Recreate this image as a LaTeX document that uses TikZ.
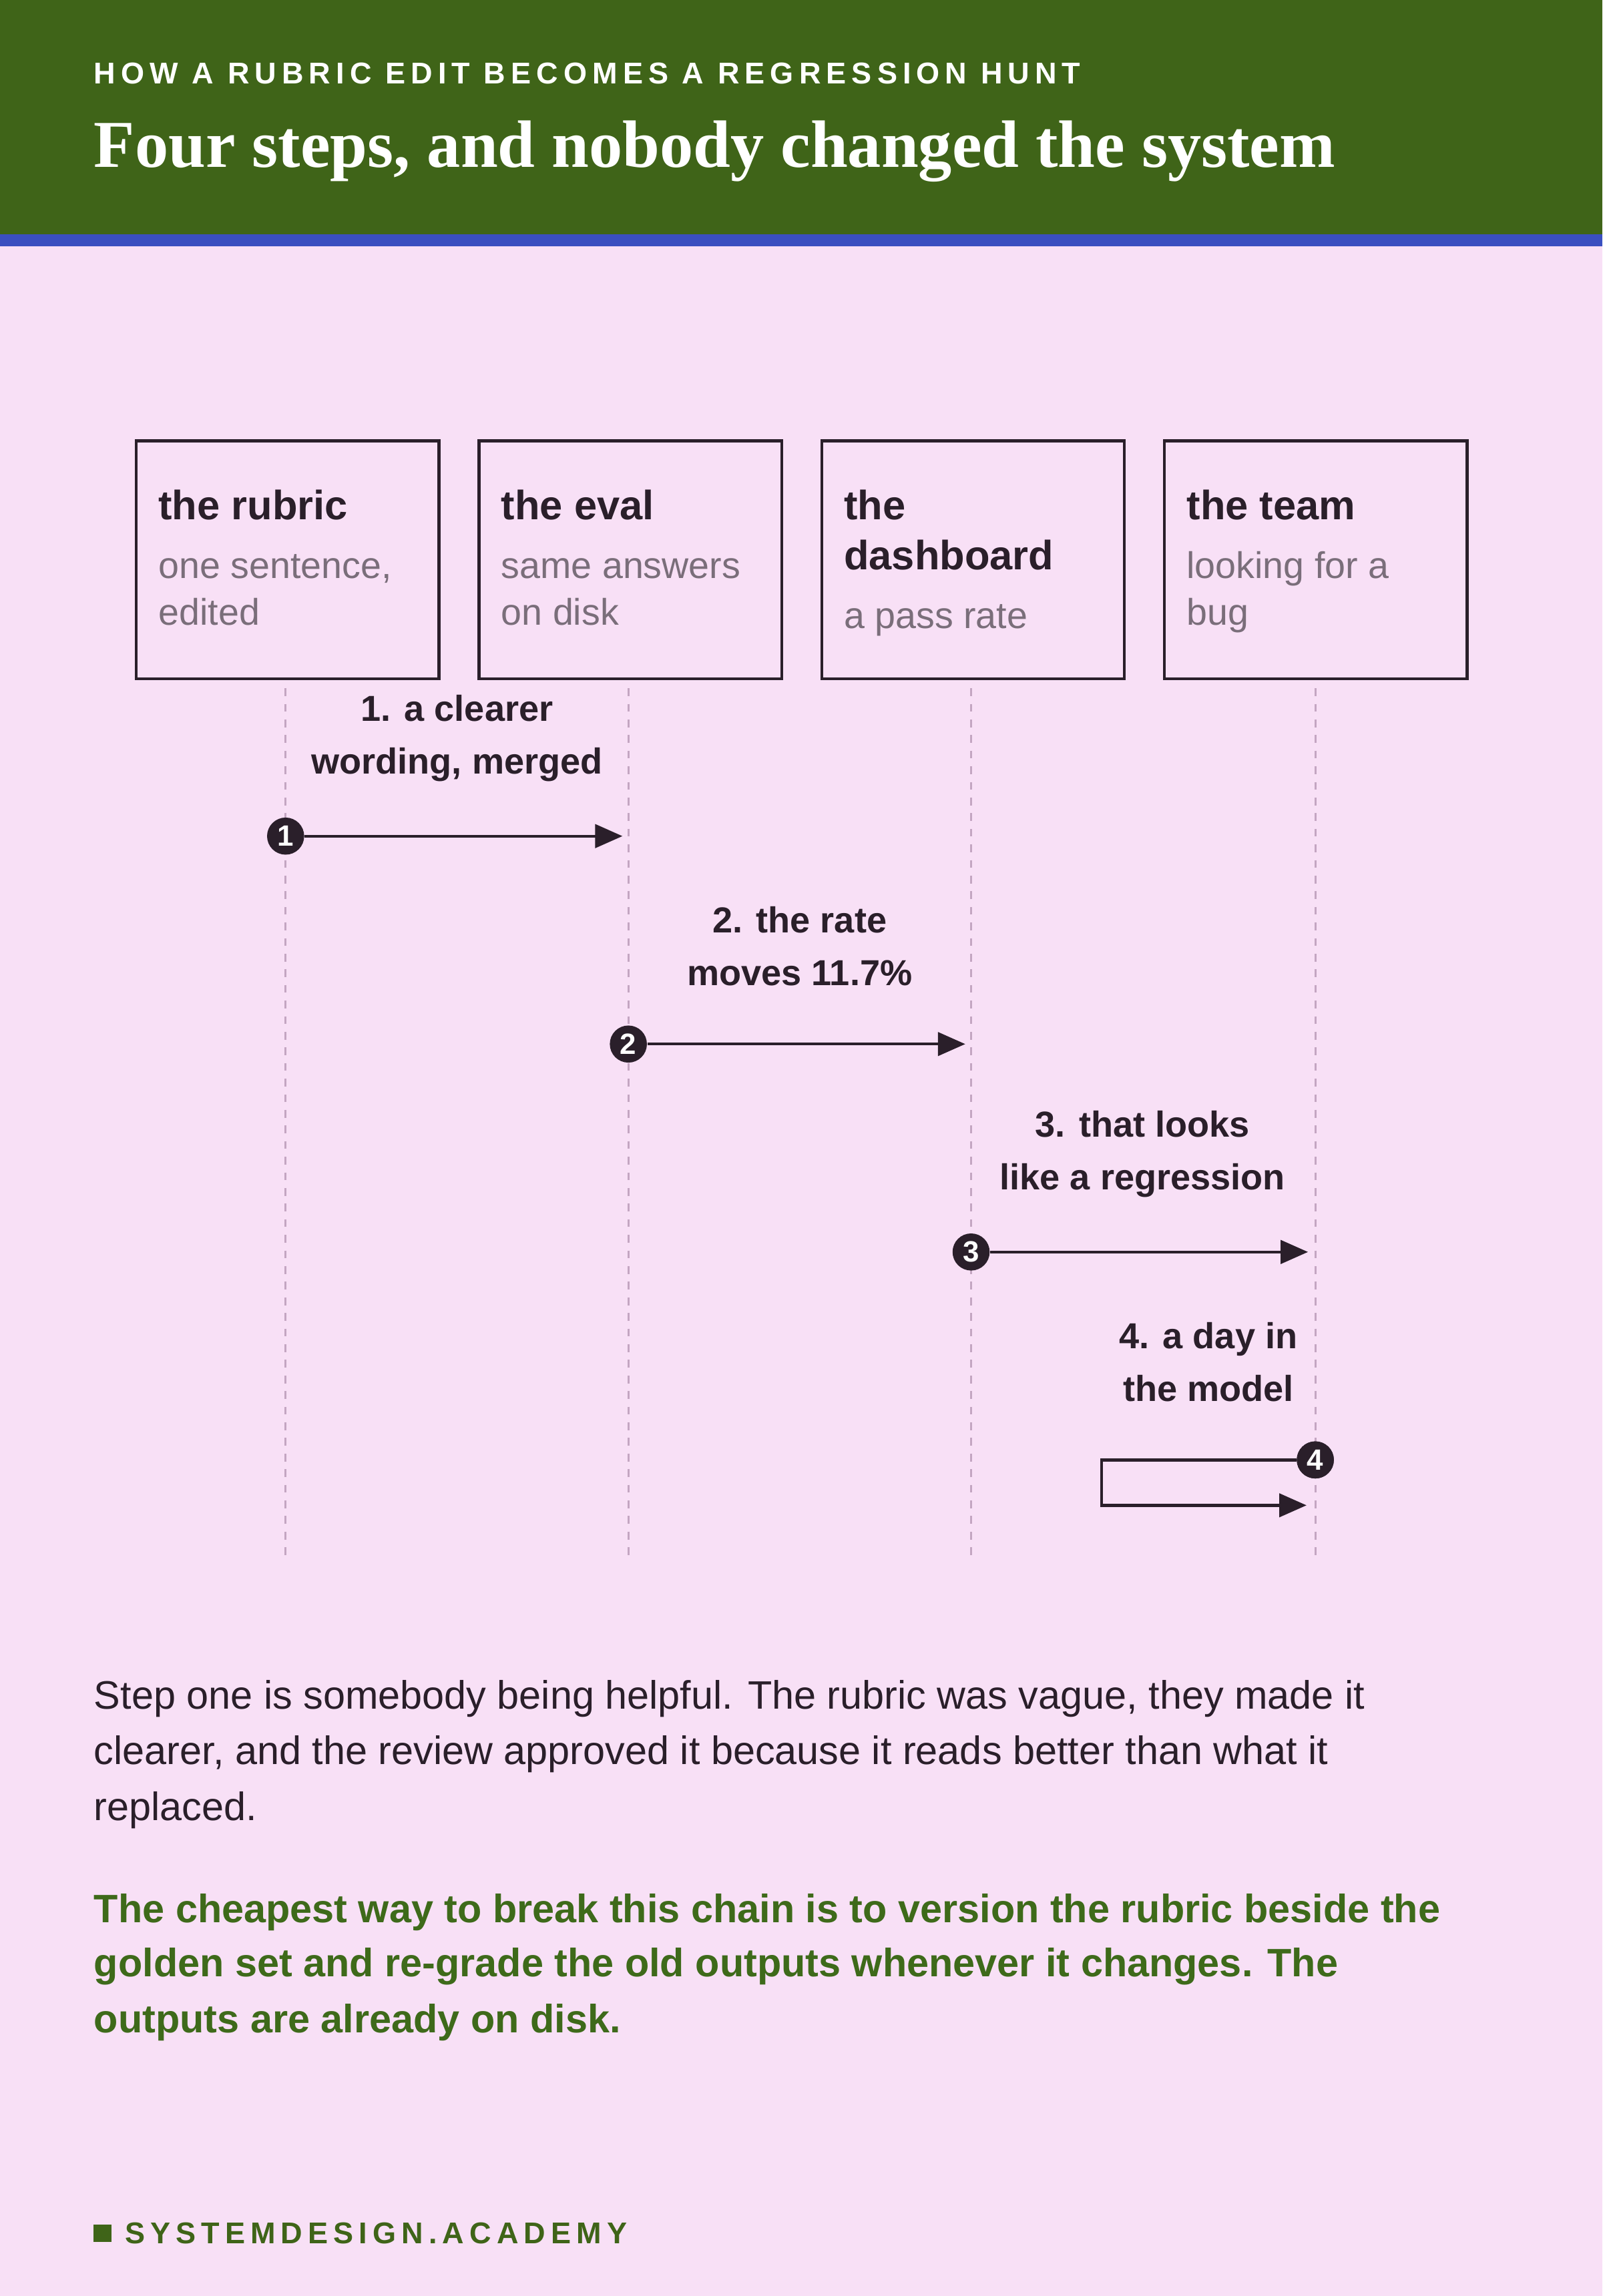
\documentclass[tikz,border=0pt]{standalone}
\usepackage{fontspec}
\setmainfont{Liberation Sans}
\newfontfamily\ttl{Liberation Serif}
\newfontfamily\kick[LetterSpace=18]{Liberation Sans}
\usetikzlibrary{arrows.meta}
\definecolor{hdr}{HTML}{3F6418}
\definecolor{bl}{HTML}{3A4FC0}
\definecolor{bg}{HTML}{F8E0F6}
\definecolor{ink}{HTML}{2A1F2A}
\definecolor{gr}{HTML}{7A6E7A}
\definecolor{gt}{HTML}{3E6A1A}
\definecolor{dl}{HTML}{C4A6C2}
\tikzset{
 box/.style={draw=ink,line width=1.5pt,minimum width=155pt,minimum height=122pt},
 bt/.style={anchor=base west,font=\fontsize{21}{25}\selectfont\bfseries,text=ink,inner sep=0},
 bs/.style={anchor=base west,font=\fontsize{19}{22}\selectfont,text=gr,inner sep=0},
 life/.style={dl,line width=1pt,dash pattern=on 4pt off 4pt},
 lab/.style={fill=bg,align=center,font=\fontsize{18.5}{27}\selectfont\bfseries,text=ink,inner sep=2pt},
 msg/.style={ink,line width=1.5pt,-{Triangle[length=14pt,width=12pt]}},
 num/.style={circle,fill=ink,text=white,inner sep=0,minimum size=19pt,font=\fontsize{15}{15}\selectfont\bfseries},
 para/.style={anchor=base west,inner sep=0,font=\fontsize{20.3}{24}\selectfont},
}
\begin{document}
\begin{tikzpicture}[x=0.75pt,y=-0.75pt]
\fill[bg] (0,0) rectangle (1094,1568);
\useasboundingbox (0,0) rectangle (1094,1568);
\fill[hdr] (0,0) rectangle (1094,160);
\fill[bl] (0,160) rectangle (1094,168);
\node[anchor=base west,inner sep=0,text=white,font=\kick\fontsize{15.4}{15}\selectfont\bfseries] (k) at (64,57) {HOW A RUBRIC EDIT BECOMES A REGRESSION HUNT};
\node[anchor=base west,inner sep=0,text=white,font=\ttl\fontsize{34.3}{36}\selectfont\bfseries] (t) at (64,114) {Four steps, and nobody changed the system};
\foreach \n/\x in {a/195,b/429,c/663,d/898}{
 \draw[life] (\x,470) -- (\x,1062);
}
\foreach \n/\x in {a/92,b/326,c/560,d/794}{
 \node[box,fill=bg,anchor=north west] (\n) at (\x,300) {};
}
\node[bt] (at) at (108,355) {the rubric};
\node[bs] (as1) at (108,395) {one sentence,};
\node[bs] (as2) at (108,427) {edited};
\node[bt] (bt) at (342,355) {the eval};
\node[bs] (bs1) at (342,395) {same answers};
\node[bs] (bs2) at (342,427) {on disk};
\node[bt] (ct1) at (576,355) {the};
\node[bt] (ct2) at (576,389) {dashboard};
\node[bs] (cs) at (576,429) {a pass rate};
\node[bt] (dt) at (810,355) {the team};
\node[bs] (ds1) at (810,395) {looking for a};
\node[bs] (ds2) at (810,427) {bug};
\node[lab] (l1) at (312,504) {1. a clearer\\wording, merged};
\node[num] (n1) at (195,571) {1};
\coordinate (e1) at (425,571);
\draw[msg] (n1) -- (e1);
\node[lab] (l2) at (546,646) {2. the rate\\moves 11.7\%};
\node[num] (n2) at (429,713) {2};
\coordinate (e2) at (659,713);
\draw[msg] (n2) -- (e2);
\node[lab] (l3) at (780,788) {3. that looks\\like a regression};
\node[num] (n3) at (663,855) {3};
\coordinate (e3) at (893,855);
\draw[msg] (n3) -- (e3);
\node[lab] (l4) at (825,930) {4. a day in\\the model};
\coordinate (c1) at (752,997);
\coordinate (c2) at (752,1028);
\coordinate (e4) at (892,1028);
\node[num] (n4) at (898,997) {4};
\draw[msg] (n4) -- (c1) -- (c2) -- (e4);
\node[num] at (898,997) {4};
\node[para,text=ink] (p1) at (64,1167) {Step one is somebody being helpful. The rubric was vague, they made it};
\node[para,text=ink] (p2) at (64,1205) {clearer, and the review approved it because it reads better than what it};
\node[para,text=ink] (p3) at (64,1243) {replaced.};
\node[para,text=gt,font=\fontsize{20.3}{24}\selectfont\bfseries] (q1) at (64,1313) {The cheapest way to break this chain is to version the rubric beside the};
\node[para,text=gt,font=\fontsize{20.3}{24}\selectfont\bfseries] (q2) at (64,1350) {golden set and re-grade the old outputs whenever it changes. The};
\node[para,text=gt,font=\fontsize{20.3}{24}\selectfont\bfseries] (q3) at (64,1388) {outputs are already on disk.};
\fill[hdr] (64,1519) rectangle (76,1531);
\node[anchor=base west,inner sep=0,text=hdr,font=\kick\fontsize{15.4}{15}\selectfont\bfseries] (f) at (85,1532) {SYSTEMDESIGN.ACADEMY};
\end{tikzpicture}
\end{document}
